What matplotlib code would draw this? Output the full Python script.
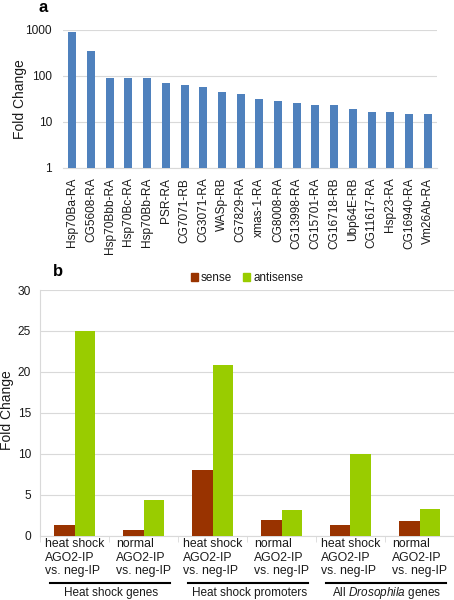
import matplotlib
matplotlib.use('agg')
import matplotlib.pyplot as plt
import matplotlib.transforms as mtransforms
from matplotlib.patches import Patch
import numpy as np

plt.rcParams['font.family'] = ['Liberation Sans', 'DejaVu Sans']
plt.rcParams['mathtext.fontset'] = 'custom'
plt.rcParams['mathtext.it'] = 'Liberation Sans:italic'
plt.rcParams['mathtext.rm'] = 'Liberation Sans'

# Panel a data
genes = ['Hsp70Ba-RA', 'CG5608-RA', 'Hsp70Bbb-RA', 'Hsp70Bc-RA', 'Hsp70Bb-RA',
         'PSR-RA', 'CG7071-RB', 'CG3071-RA', 'WASp-RB', 'CG7829-RA',
         'xmas-1-RA', 'CG8008-RA', 'CG13998-RA', 'CG15701-RA', 'CG16718-RB',
         'Ubp64E-RB', 'CG11617-RA', 'Hsp23-RA', 'CG16940-RA', 'Vm26Ab-RA']
fold_a = [920, 355, 92, 89, 89, 71, 64, 57, 45, 41,
          32, 28, 26, 24, 24, 19, 16.7, 16.7, 15.1, 14.7]

# Panel b data
conditions = ['heat shock\nAGO2-IP\nvs. neg-IP', 'normal\nAGO2-IP\nvs. neg-IP'] * 3
groups = ['Heat shock genes', 'Heat shock promoters', 'All $\\it{Drosophila}$ genes']
sense = [1.35, 0.7, 8.0, 1.9, 1.35, 1.8]
antisense = [25.0, 4.4, 20.8, 3.1, 10.0, 3.25]

blue = '#4F81BD'
red = '#993300'
green = '#99CC00'
grid_c = '#D9D9D9'
txt = '#1a1a1a'

W, H = 454, 600
fig = plt.figure(figsize=(W / 100, H / 100), dpi=100)

# ---- panel a ----
ax1 = fig.add_axes([63 / W, 1 - 168 / H, 374 / W, 138 / H])
xa = np.arange(len(genes))
ax1.bar(xa, fold_a, width=0.43, color=blue, zorder=3)
ax1.set_yscale('log')
ax1.set_ylim(1, 1000)
ax1.set_xlim(-0.5, len(genes) - 0.5)
ax1.set_yticks([1, 10, 100, 1000])
ax1.set_yticklabels(['1', '10', '100', '1000'])
ax1.yaxis.set_minor_locator(matplotlib.ticker.NullLocator())
ax1.set_xticks(xa)
ax1.set_xticklabels(genes, rotation=90, fontsize=8.6, color=txt)
ax1.tick_params(axis='both', length=0, labelsize=8.6, labelcolor=txt)
ax1.tick_params(axis='x', pad=7)
ax1.tick_params(axis='y', pad=8)
for s in ['top', 'right', 'left']:
    ax1.spines[s].set_visible(False)
ax1.spines['bottom'].set_color(grid_c)
ax1.grid(axis='y', color=grid_c, lw=0.8, zorder=0)
ax1.set_ylabel('Fold Change', fontsize=10, color=txt, va='center')
ax1.yaxis.set_label_coords(-0.115, 0.5)
fig.text(43 / W, 1 - 7 / H, 'a', fontsize=12, fontweight='bold', ha='center', va='center')

# ---- panel b ----
ax2 = fig.add_axes([40 / W, 1 - 535.7 / H, 414 / W, 245.7 / H])
xb = np.arange(len(conditions))
bw = 0.29
ax2.bar(xb - bw / 2, sense, width=bw, color=red, label='sense', zorder=3)
ax2.bar(xb + bw / 2, antisense, width=bw, color=green, label='antisense', zorder=3)
ax2.set_xlim(-0.5, len(conditions) - 0.5)
ax2.set_ylim(0, 30)
ax2.set_yticks(np.arange(0, 31, 5))
ax2.tick_params(axis='y', length=0, labelsize=8.6, labelcolor=txt, pad=6.5)
ax2.set_xticks(xb)
ax2.set_xticklabels(conditions, fontsize=8.8, color=txt)
for lbl in ax2.get_xticklabels():
    lbl.set_multialignment('left')
    lbl.set_linespacing(1.12)
ax2.tick_params(axis='x', which='major', length=0, pad=2)
ax2.set_xticks(np.arange(-0.5, len(conditions)), minor=True)
ax2.tick_params(axis='x', which='minor', length=4, color=grid_c)
for s in ['top', 'right']:
    ax2.spines[s].set_visible(False)
ax2.spines['left'].set_color(grid_c)
ax2.spines['bottom'].set_color(grid_c)
ax2.grid(axis='y', color=grid_c, lw=0.8, zorder=0)
ax2.set_ylabel('Fold Change', fontsize=10, color=txt, va='center')
ax2.yaxis.set_label_coords(-0.079, 0.51)

trans = mtransforms.blended_transform_factory(ax2.transData, ax2.transAxes)
for g, name in enumerate(groups):
    ax2.plot([2 * g - 0.36, 2 * g + 1.38], [-0.194, -0.194], color='black', lw=1.5,
             transform=trans, clip_on=False)
    ax2.text(2 * g + 0.53, -0.232, name, transform=trans, ha='center', va='center',
             fontsize=8.5, color=txt)

handles = [Patch(color=red, label='sense'), Patch(color=green, label='antisense')]
fig.legend(handles=handles, loc='center', bbox_to_anchor=(247 / W, 1 - 278 / H), ncol=2,
           frameon=False, fontsize=8.4, handlelength=0.6, handleheight=0.6,
           handletextpad=0.3, columnspacing=0.9, labelcolor=txt)
fig.text(58 / W, 1 - 272 / H, 'b', fontsize=12, fontweight='bold', ha='center', va='center')

fig.savefig('out.png', dpi=100)
